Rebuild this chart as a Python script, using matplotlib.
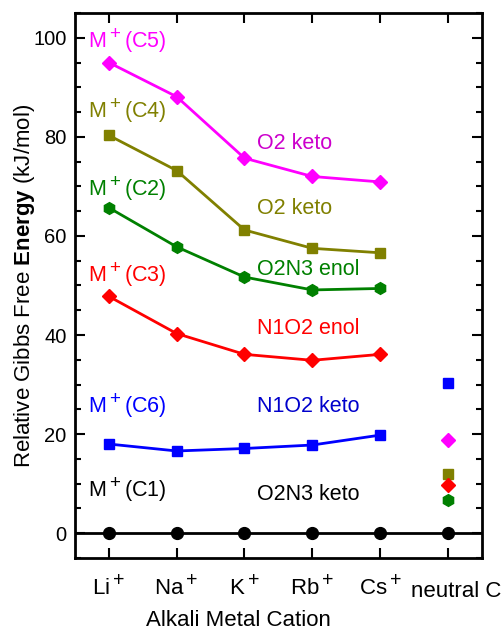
import numpy as np
import matplotlib
matplotlib.use('Agg')
import matplotlib.pyplot as plt
import matplotlib.transforms as mtransforms
import matplotlib._mathtext as _mt
from matplotlib.ticker import MultipleLocator

plt.rcParams['font.family'] = ['Liberation Sans', 'DejaVu Sans']
plt.rcParams['mathtext.fontset'] = 'custom'
plt.rcParams['mathtext.rm'] = 'Liberation Sans'
plt.rcParams['mathtext.it'] = 'Liberation Sans:italic'
plt.rcParams['mathtext.bf'] = 'Liberation Sans:bold'
# larger "+" superscripts, like the original
_mt.SHRINK_FACTOR = 0.88

# cation positions on the x axis, neutral species sits at the end
cations = ['Li$^+$', 'Na$^+$', 'K$^+$', 'Rb$^+$', 'Cs$^+$', 'neutral C']
xpos = [1, 2, 3, 4, 5]
x_neutral = 6

# relative free energies (kJ/mol)
c5 = [95.0, 88.1, 75.7, 72.0, 70.9]
c4 = [80.3, 73.2, 61.2, 57.5, 56.6]
c2 = [65.7, 57.8, 51.7, 49.1, 49.4]
c3 = [47.8, 40.3, 36.1, 34.9, 36.1]
c6 = [18.0, 16.6, 17.1, 17.8, 19.8]
c1 = [0.0, 0.0, 0.0, 0.0, 0.0]

# neutral species values
n_c6 = 30.4
n_c5 = 18.9
n_c4 = 11.9
n_c3 = 9.8
n_c2 = 6.7
n_c1 = 0.0

fig = plt.figure(figsize=(5.03, 6.30), dpi=100)
ax = fig.add_axes([0.149, 0.1143, 0.809, 0.8651])

ax.axhline(0, color='black', lw=2.0, zorder=1)

ax.plot(xpos, c5, '-D', color='#ff00ff', lw=2.0, ms=7.5)
ax.plot(xpos, c4, '-s', color='#808000', lw=2.0, ms=7.5)
ax.plot(xpos, c2, '-h', color='#008000', lw=2.0, ms=8.5)
ax.plot(xpos, c3, '-D', color='#ff0000', lw=2.0, ms=7.5)
ax.plot(xpos, c6, '-s', color='#0000ff', lw=2.0, ms=7.5)
ax.plot(xpos + [x_neutral], c1 + [n_c1], 'o', color='black', ms=8.5)

ax.plot(x_neutral, n_c6, 's', color='#0000ff', ms=7.5)
ax.plot(x_neutral, n_c5, 'D', color='#ff00ff', ms=7)
ax.plot(x_neutral, n_c4, 's', color='#808000', ms=7.5)
ax.plot(x_neutral, n_c3, 'D', color='#ff0000', ms=7)
ax.plot(x_neutral, n_c2, 'h', color='#008000', ms=8.5)

# series labels
fs = 15.5
ax.text(0.69, 99.4, 'M$^+$(C5)', color='#ff00ff', fontsize=fs, va='center')
ax.text(0.69, 85.3, 'M$^+$(C4)', color='#808000', fontsize=fs, va='center')
ax.text(0.69, 69.5, 'M$^+$(C2)', color='#008000', fontsize=fs, va='center')
ax.text(0.69, 52.3, 'M$^+$(C3)', color='#ff0000', fontsize=fs, va='center')
ax.text(0.69, 25.7, 'M$^+$(C6)', color='#0000ff', fontsize=fs, va='center')
ax.text(0.69, 8.9, 'M$^+$(C1)', color='black', fontsize=fs, va='center')

ax.text(3.19, 78.6, 'O2 keto', color='#cc00cc', fontsize=fs, va='center')
ax.text(3.19, 65.5, 'O2 keto', color='#808000', fontsize=fs, va='center')
ax.text(3.19, 53.3, 'O2N3 enol', color='#008000', fontsize=fs, va='center')
ax.text(3.19, 41.4, 'N1O2 enol', color='#ff0000', fontsize=fs, va='center')
ax.text(3.19, 25.5, 'N1O2 keto', color='#0000cc', fontsize=fs, va='center')
ax.text(3.19, 7.9, 'O2N3 keto', color='black', fontsize=fs, va='center')

ax.set_xlim(0.5, 6.5)
ax.set_ylim(-5, 105)
ax.set_xticks(xpos + [x_neutral])
ax.set_xticklabels(cations, fontsize=16)
ax.yaxis.set_major_locator(MultipleLocator(20))
ax.yaxis.set_minor_locator(MultipleLocator(5))
ax.tick_params(axis='y', labelsize=14.5, pad=6)
ax.tick_params(which='both', direction='in', top=True, right=True, width=1.5)
ax.tick_params(which='major', length=7)
ax.tick_params(which='minor', length=4)
ax.tick_params(axis='x', pad=12)

# the neutral label sits a bit right of and below its tick
lab = ax.get_xticklabels()[-1]
lab.set_transform(lab.get_transform() + mtransforms.ScaledTranslation(0.08, -0.06, fig.dpi_scale_trans))

for s in ax.spines.values():
    s.set_linewidth(2)

fig.text(0.475, 0.0063, 'Alkali Metal Cation', fontsize=16, ha='center', va='baseline')
ax.set_ylabel(r'Relative Gibbs Free $\mathbf{Energy}$ (kJ/mol)', fontsize=16, labelpad=-3)

fig.savefig('out.png', dpi=100)
